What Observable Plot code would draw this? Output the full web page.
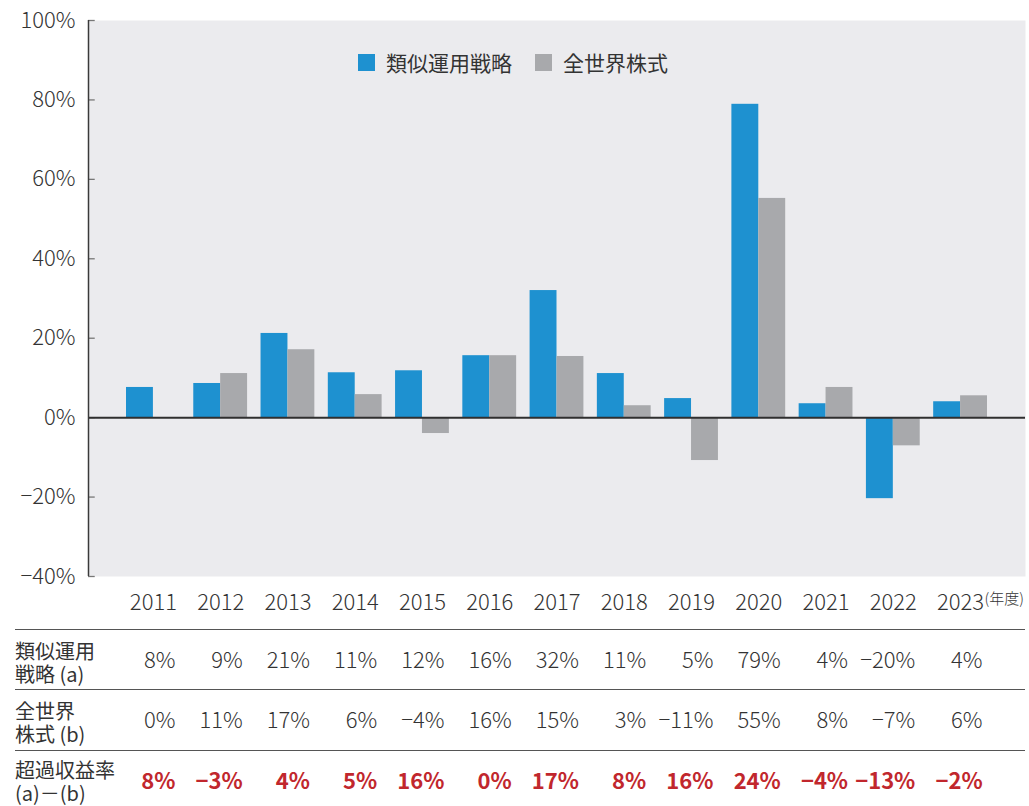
<!DOCTYPE html>
<html><head><meta charset="utf-8">
<script src="https://cdn.jsdelivr.net/npm/d3@7"></script>
<script src="https://cdn.jsdelivr.net/npm/@observablehq/plot@0.6"></script>
<style>
body{margin:0;background:#fff;font-family:"Noto Sans CJK JP","Noto Sans",sans-serif;color:#333;}
#wrap{position:relative;width:1029px;}
.legend{position:absolute;left:358px;top:52px;display:flex;align-items:center;font-size:21px;color:#333;line-height:1;}
.legend .sw{display:inline-block;width:17px;height:17px;margin-right:11px;}
.legend .item{display:flex;align-items:center;margin-right:23px;}
.row{position:relative;width:1029px;height:60px;}
.row .line{position:absolute;left:15px;width:1010px;top:0;height:0;border-top:1.5px solid #555;}
.row .lab{position:absolute;left:15px;font-size:20px;line-height:20px;color:#333;white-space:nowrap;}
.row svg{display:block;}
</style></head>
<body><div id="wrap"></div>
<script>
const years = ["2011","2012","2013","2014","2015","2016","2017","2018","2019","2020","2021","2022","2023"];
const seriesNames = ["類似運用戦略","全世界株式"];
const strategy = [7.6, 8.6, 21.2, 11.3, 11.8, 15.6, 32.0, 11.1, 4.8, 78.9, 3.5, -20.4, 4.0];
const world = [0, 11.1, 17.1, 5.8, -4.0, 15.6, 15.4, 3.0, -10.8, 55.2, 7.6, -7.1, 5.5];
const strategyTable = [8, 9, 21, 11, 12, 16, 32, 11, 5, 79, 4, -20, 4];
const worldTable = [0, 11, 17, 6, -4, 16, 15, 3, -11, 55, 8, -7, 6];
const excessTable = [8, -3, 4, 5, 16, 0, 17, 8, 16, 24, -4, -13, -2];
const rowLabels = [["類似運用","戦略 (a)"],["全世界","株式 (b)"],["超過収益率","(a)－(b)"]];
const yTicks = [-40, -20, 0, 20, 40, 60, 80, 100];
const colors = ["#1e91d0", "#a8a9ac"];

const xDomain = [-0.965, 12.965];
const fmt = v => (v < 0 ? "−" + Math.abs(v) : String(v)) + "%";
const font = '"Noto Sans CJK JP","Noto Sans",sans-serif';

const bars = [];
years.forEach((y, i) => {
  bars.push({i, year: y, series: seriesNames[0], value: strategy[i], off: -0.4});
  bars.push({i, year: y, series: seriesNames[1], value: world[i], off: 0});
});

const wrap = document.getElementById("wrap");

const main = Plot.plot({
  width: 1029, height: 629,
  marginLeft: 88, marginRight: 4, marginTop: 20, marginBottom: 53,
  style: {fontFamily: font, color: "#333", background: "transparent", fontWeight: 300},
  x: {domain: xDomain, label: null},
  y: {domain: [-40, 100], label: null},
  color: {domain: seriesNames, range: colors},
  marks: [
    Plot.frame({fill: "#ebebee", stroke: null}),
    Plot.rect(bars, {x1: d => d.i + d.off, x2: d => d.i + d.off + 0.4, y1: 0, y2: "value", fill: "series"}),
    Plot.ruleY(yTicks, {x1: xDomain[0], x2: xDomain[0] + 0.1, stroke: "#777", strokeWidth: 1.3}),
    Plot.ruleY([0], {stroke: "#2f2f2f", strokeWidth: 2}),
    Plot.ruleX([xDomain[0]], {stroke: "#3a3a3a", strokeWidth: 1.5}),
    Plot.axisX({ticks: d3.range(years.length), tickFormat: i => years[i], tickSize: 0, tickPadding: 18, fontSize: 22, label: null}),
    Plot.axisY({ticks: yTicks, tickFormat: fmt, tickSize: 0, tickPadding: 13, fontSize: 22, label: null}),
    Plot.text(["(年度)"], {x: years.length - 1, frameAnchor: "bottom", dx: 24, dy: 27, textAnchor: "start", fontSize: 15, fill: "#333"})
  ]
});
wrap.appendChild(main);

const legend = document.createElement("div");
legend.className = "legend";
seriesNames.forEach((n, k) => {
  const it = document.createElement("div");
  it.className = "item";
  it.innerHTML = `<span class="sw" style="background:${colors[k]}"></span><span>${n}</span>`;
  legend.appendChild(it);
});
wrap.appendChild(legend);

const tables = [strategyTable, worldTable, excessTable];
tables.forEach((vals, r) => {
  const row = document.createElement("div");
  row.className = "row";
  const h = r === 1 ? 61 : 60;
  row.style.height = h + "px";
  const red = r === 2;
  const p = Plot.plot({
    width: 1029, height: h,
    marginLeft: 88, marginRight: 4, marginTop: 0, marginBottom: 0,
    style: {fontFamily: font, background: "transparent"},
    x: {domain: xDomain, axis: null},
    marks: [
      Plot.text(vals, {x: (d, i) => i, text: d => fmt(d), frameAnchor: "middle", textAnchor: "end", dx: 22, dy: 1,
        fontSize: 22, fill: red ? "#c1272d" : "#333", fontWeight: red ? "bold" : 300})
    ]
  });
  row.appendChild(p);
  const line = document.createElement("div"); line.className = "line"; row.appendChild(line);
  rowLabels[r].forEach((t, k) => {
    const lab = document.createElement("div"); lab.className = "lab";
    lab.style.top = ((r === 2 ? 10 : 12) + k * 23) + "px";
    lab.textContent = t;
    row.appendChild(lab);
  });
  wrap.appendChild(row);
});
</script></body></html>
